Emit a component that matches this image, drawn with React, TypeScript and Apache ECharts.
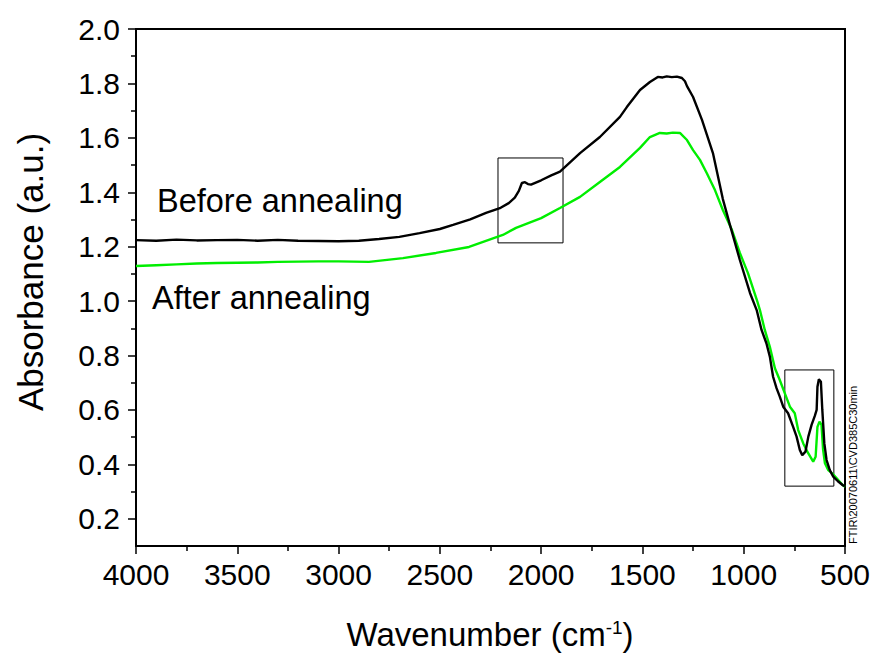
import React, { useEffect, useRef } from "react";
import * as echarts from "echarts";

// Wavenumber (cm-1) and absorbance, before annealing
const beforeWn = [4000, 3900, 3800, 3700, 3600, 3500, 3400, 3300, 3200, 3100, 3000, 2900, 2800, 2700, 2600, 2500, 2435, 2350, 2272, 2200, 2160, 2130, 2110, 2095, 2080, 2065, 2050, 2000, 1950, 1907, 1808, 1710, 1611, 1577, 1512, 1463, 1424, 1400, 1380, 1355, 1330, 1305, 1290, 1280, 1250, 1206, 1152, 1103, 1068, 1019, 969, 936, 912, 888, 871, 855, 838, 822, 805, 781, 756, 739, 723, 711, 695, 681, 665, 649, 640, 636, 629, 619, 612, 602, 591, 575, 558, 535, 512, 500];
const beforeAbs = [1.224, 1.222, 1.226, 1.223, 1.224, 1.225, 1.222, 1.225, 1.222, 1.221, 1.220, 1.222, 1.228, 1.236, 1.250, 1.265, 1.280, 1.300, 1.324, 1.343, 1.360, 1.380, 1.405, 1.434, 1.437, 1.430, 1.428, 1.444, 1.462, 1.476, 1.544, 1.603, 1.677, 1.713, 1.776, 1.805, 1.824, 1.822, 1.826, 1.823, 1.825, 1.820, 1.808, 1.790, 1.750, 1.666, 1.544, 1.375, 1.280, 1.151, 1.030, 0.967, 0.894, 0.845, 0.796, 0.722, 0.680, 0.649, 0.612, 0.588, 0.538, 0.502, 0.453, 0.434, 0.447, 0.502, 0.545, 0.578, 0.600, 0.685, 0.713, 0.704, 0.600, 0.477, 0.416, 0.379, 0.355, 0.338, 0.324, 0.320];

// Wavenumber (cm-1) and absorbance, after annealing
const afterWn = [4000, 3900, 3800, 3700, 3600, 3500, 3400, 3300, 3200, 3100, 3000, 2850, 2682, 2519, 2356, 2189, 2124, 2000, 1907, 1808, 1710, 1611, 1512, 1463, 1414, 1380, 1350, 1315, 1280, 1250, 1216, 1182, 1142, 1103, 1058, 1019, 979, 935, 920, 896, 871, 846, 822, 797, 772, 748, 731, 706, 681, 657, 645, 636, 626, 616, 608, 599, 583, 563, 541, 512, 500];
const afterAbs = [1.129, 1.132, 1.135, 1.138, 1.140, 1.141, 1.142, 1.144, 1.145, 1.146, 1.146, 1.144, 1.158, 1.177, 1.199, 1.243, 1.269, 1.305, 1.342, 1.383, 1.438, 1.493, 1.563, 1.603, 1.618, 1.616, 1.619, 1.618, 1.592, 1.555, 1.519, 1.470, 1.408, 1.335, 1.261, 1.177, 1.103, 1.004, 0.967, 0.894, 0.832, 0.753, 0.710, 0.661, 0.612, 0.588, 0.526, 0.477, 0.440, 0.410, 0.428, 0.538, 0.557, 0.545, 0.453, 0.404, 0.379, 0.367, 0.349, 0.324, 0.318];

// Highlight boxes: [wnStart, absTop, wnEnd, absBottom]
const box1 = [2213, 1.526, 1892, 1.214];
const box2 = [797, 0.747, 555, 0.32];

const yMajor = [0.2, 0.4, 0.6, 0.8, 1.0, 1.2, 1.4, 1.6, 1.8, 2.0];
const yMinor = [0.3, 0.5, 0.7, 0.9, 1.1, 1.3, 1.5, 1.7, 1.9];

const FONT = "'Liberation Sans', Arial, sans-serif";

export default function App() {
  const ref = useRef<HTMLDivElement>(null);
  useEffect(() => {
    if (!ref.current) return;
    const chart = echarts.init(ref.current, null, { renderer: "svg" });
    const before = beforeWn.map((w, i) => [w, beforeAbs[i]]);
    const after = afterWn.map((w, i) => [w, afterAbs[i]]);
    chart.setOption({
      animation: false,
      backgroundColor: "#fff",
      textStyle: { fontFamily: FONT },
      grid: {
        left: 136,
        right: 29,
        top: 29,
        bottom: 107,
        show: true,
        borderColor: "#000",
        borderWidth: 2,
        backgroundColor: "transparent",
      },
      xAxis: {
        type: "value",
        min: 500,
        max: 4000,
        interval: 500,
        inverse: true,
        axisLine: { show: true, onZero: false, lineStyle: { color: "#000", width: 2 } },
        axisTick: { show: true, inside: false, length: 8, lineStyle: { color: "#000", width: 1.5 } },
        minorTick: { show: true, splitNumber: 2, length: 5, lineStyle: { color: "#000", width: 1.5 } },
        splitLine: { show: false },
        axisLabel: {
          color: "#000",
          fontSize: 30,
          margin: 13,
          fontFamily: FONT,
          formatter: (v: number) => String(v),
        },
      },
      yAxis: [
        {
          type: "value",
          min: 0.1,
          max: 2.0,
          axisLine: { show: true, onZero: false, lineStyle: { color: "#000", width: 2 } },
          axisTick: { show: true, inside: false, length: 8, customValues: yMajor, lineStyle: { color: "#000", width: 1.5 } },
          splitLine: { show: false },
          axisLabel: {
            color: "#000",
            fontSize: 30,
            margin: 16,
            fontFamily: FONT,
            customValues: yMajor,
            formatter: (v: number) => v.toFixed(1),
          },
        },
        {
          type: "value",
          min: 0.1,
          max: 2.0,
          position: "left",
          axisLine: { show: false },
          axisTick: { show: true, inside: false, length: 5, customValues: yMinor, lineStyle: { color: "#000", width: 1.5 } },
          splitLine: { show: false },
          axisLabel: { show: false },
        },
      ],
      series: [
        {
          name: "Before annealing",
          type: "line",
          data: before,
          showSymbol: false,
          lineStyle: { color: "#000", width: 2.4 },
          itemStyle: { color: "#000" },
          z: 3,
          markArea: {
            silent: true,
            itemStyle: { color: "rgba(0,0,0,0)", borderColor: "#000", borderWidth: 1 },
            data: [
              [{ coord: [box1[0], box1[1]] }, { coord: [box1[2], box1[3]] }],
              [{ coord: [box2[0], box2[1]] }, { coord: [box2[2], box2[3]] }],
            ],
          },
        },
        {
          name: "After annealing",
          type: "line",
          data: after,
          showSymbol: false,
          lineStyle: { color: "#00ee00", width: 2.4 },
          itemStyle: { color: "#00ee00" },
          z: 2,
        },
      ],
      graphic: [
        {
          type: "text",
          left: 157,
          top: 184,
          style: { text: "Before annealing", fontSize: 32.5, fill: "#000", fontFamily: FONT },
        },
        {
          type: "text",
          left: 152,
          top: 281,
          style: { text: "After annealing", fontSize: 32.5, fill: "#000", fontFamily: FONT },
        },
        {
          type: "text",
          x: 30,
          y: 272,
          rotation: Math.PI / 2,
          style: {
            text: "Absorbance (a.u.)",
            fontSize: 35,
            fill: "#000",
            align: "center",
            verticalAlign: "middle",
            fontFamily: FONT,
          },
        },
        {
          type: "text",
          x: 490,
          y: 634,
          style: {
            text: "Wavenumber (cm{sup|-1})",
            fontSize: 33,
            fill: "#000",
            align: "center",
            verticalAlign: "middle",
            fontFamily: FONT,
            rich: {
              sup: { fontSize: 19, verticalAlign: "top", fontFamily: FONT, fill: "#000" },
            },
          },
        },
        {
          type: "text",
          x: 853,
          y: 544,
          rotation: Math.PI / 2,
          style: {
            text: "FTIR\\20070611\\CVD385C30min",
            fontSize: 11,
            fill: "#000",
            align: "left",
            verticalAlign: "middle",
            fontFamily: FONT,
          },
        },
      ],
    });
    return () => chart.dispose();
  }, []);
  return (
    <div
      ref={ref}
      style={{ position: "fixed", left: 0, top: 0, width: 874, height: 653, background: "#fff" }}
    />
  );
}
